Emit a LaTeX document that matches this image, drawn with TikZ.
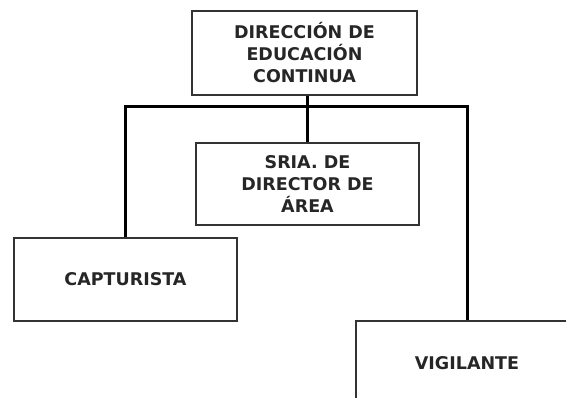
\documentclass[tikz,border=0pt]{standalone}
\usepackage{fontspec}
\setmainfont{DejaVu Sans}
\begin{document}
\begin{tikzpicture}[x=1pt,y=-1pt,
  lbl/.style={align=center, inner sep=0pt, text=black!85,
    font=\fontsize{17.5}{22}\selectfont\bfseries},
  box/.style={lbl, draw=black!80, line width=1.4pt, fill=white},
  conn/.style={draw=black, line width=3pt}]
\useasboundingbox (0,0) rectangle (566,398);
\clip (0,0) rectangle (566,398);
\coordinate (hy) at (0,107);
\node[box, minimum width=225pt, minimum height=84pt] (dir) at (304.5,53) {DIRECCIÓN DE\\EDUCACIÓN\\CONTINUA};
\node[box, minimum width=223pt, minimum height=82pt] (sria) at (307.5,184) {SRIA. DE\\DIRECTOR DE\\ÁREA};
\node[box, minimum width=223pt, minimum height=83pt] (cap) at (125.5,279.5) {CAPTURISTA};
\node[box, minimum width=222pt, minimum height=100pt] (vig) at (467,371) {};
\node[lbl] (vigt) at (467,363) {VIGILANTE};
\draw[conn] (sria.north) -- (sria.north |- dir.south);
\draw[conn] (cap.north) -- (cap.north |- hy) -- (vig.north |- hy) -- (vig.north);
\end{tikzpicture}
\end{document}
